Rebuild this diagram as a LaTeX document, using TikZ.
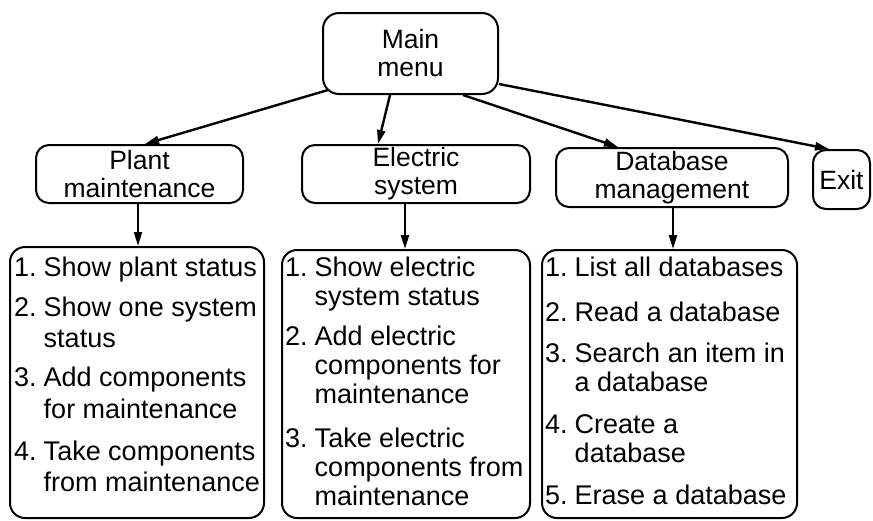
\documentclass[tikz,border=0pt]{standalone}
\usepackage{fontspec}
\setmainfont{Liberation Sans}
\usetikzlibrary{arrows.meta}
\begin{document}
\begin{tikzpicture}[x=1pt,y=-1pt,
  box/.style={draw,line width=2pt,rounded corners=13pt,inner sep=0pt,align=center,
    font=\fontsize{26.5}{28}\selectfont},
  listbox/.style={draw,line width=2pt,rounded corners=15pt,inner sep=0pt},
  listtext/.style={anchor=base west,inner sep=0pt,font=\fontsize{27}{29}\selectfont},
  arr/.style={line width=2.4pt,-{Triangle[length=14pt,width=8pt]}}]
\useasboundingbox (0,0) rectangle (873,520);
% top level
\node[box,minimum width=175pt,minimum height=81pt,rounded corners=16pt] (main) at (410.5,53.5) {Main\\menu};
\node[box,minimum width=207pt,minimum height=58pt] (plant) at (139.5,174) {Plant\\maintenance};
\node[box,minimum width=228pt,minimum height=58pt] (elec) at (416,174) {Electric\\system};
\node[box,minimum width=232pt,minimum height=59pt] (db) at (672,177.5) {Database\\management};
\node[box,minimum width=57pt,minimum height=59pt] (exit) at (841.5,179.5) {Exit};
% list boxes
\node[listbox,minimum width=254pt,minimum height=271pt] (plist) at (137,382.5) {};
\node[listbox,minimum width=248pt,minimum height=268pt] (elist) at (406,384) {};
\node[listbox,minimum width=255pt,minimum height=268pt] (dlist) at (669.5,384) {};
% list texts
\node[listtext] (ptext) at (14,276) {\begin{tabular}[t]{@{}l@{\hspace{0.26em}}l@{}}
1. & Show plant status\\[11pt]
2. & Show one system\\[2pt]
   & status\\[10pt]
3. & Add components\\[3pt]
   & for maintenance\\[13pt]
4. & Take components\\[2pt]
   & from maintenance
\end{tabular}};
\node[listtext] (etext) at (285,276) {\begin{tabular}[t]{@{}l@{\hspace{0.26em}}l@{}}
1. & Show electric\\
   & system status\\[11pt]
2. & Add electric\\
   & components for\\
   & maintenance\\[15pt]
3. & Take electric\\
   & components from\\
   & maintenance
\end{tabular}};
\node[listtext] (dtext) at (545,276) {\begin{tabular}[t]{@{}l@{\hspace{0.26em}}l@{}}
1. & List all databases\\[16pt]
2. & Read a database\\[12pt]
3. & Search an item in\\
   & a database\\[13pt]
4. & Create a\\
   & database\\[13pt]
5. & Erase a database
\end{tabular}};
% connectors
\draw[arr] ([xshift=6pt,yshift=5pt]main.south west) -- ([xshift=5.5pt]plant.north);
\draw[arr] ([xshift=-20.5pt]main.south) -- ([xshift=-38pt]elec.north);
\draw[arr] ([xshift=52.5pt]main.south) -- ([xshift=-54pt]db.north);
\draw[arr] ([yshift=11pt]main.south east) -- ([xshift=-12.5pt]exit.north);
\draw[arr] ([xshift=-1.5pt]plant.south) -- ([xshift=-1.5pt]plant.south |- plist.north);
\draw[arr] ([xshift=-11pt]elec.south) -- ([xshift=-11pt]elec.south |- elist.north);
\draw[arr] ([xshift=1pt]db.south) -- ([xshift=1pt]db.south |- dlist.north);
\end{tikzpicture}
\end{document}
